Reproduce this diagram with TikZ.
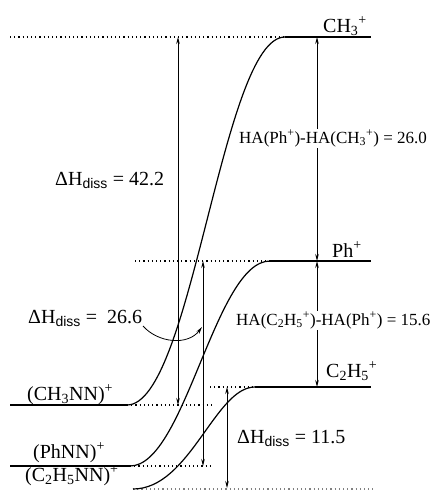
\documentclass[tikz,border=0pt]{standalone}
\usepackage{fontspec}
\setmainfont{Liberation Serif}
\newfontfamily\dissfont{Liberation Sans}
\usetikzlibrary{arrows.meta}
\newcommand\dHd{ΔH\textsubscript{\dissfont diss}}
\begin{document}
\begin{tikzpicture}[x=1pt,y=-1pt,
 lvl/.style={line width=1.4pt},
 dotl/.style={line width=1.1pt, dash pattern=on 1.2pt off 3pt},
 crv/.style={line width=1.2pt},
 dim/.style={line width=0.8pt, {Stealth[length=7pt,width=3.5pt]}-{Stealth[length=7pt,width=3.5pt]}},
 onearr/.style={line width=0.8pt, -{Stealth[length=7pt,width=3.5pt]}},
 lab/.style={font=\fontsize{20}{24}\selectfont, inner sep=0pt, anchor=base west},
 halab/.style={font=\fontsize{17}{20}\selectfont, inner sep=1pt, anchor=base west, fill=white}]
\useasboundingbox (0,0) rectangle (430,490);
% levels
\coordinate (ch3L) at (10,37);  \coordinate (ch3K) at (285,37);  \coordinate (ch3R) at (371,37);
\coordinate (phL) at (135,261); \coordinate (phK) at (270,261);  \coordinate (phR) at (371,261);
\coordinate (c2L) at (210,387); \coordinate (c2K) at (255,387);  \coordinate (c2R) at (371,387);
\coordinate (mnL) at (10,405);  \coordinate (mnK) at (127,405);  \coordinate (mnR) at (213,405);
\coordinate (pnL) at (10,466);  \coordinate (pnK) at (130,466);  \coordinate (pnR) at (210,466);
\coordinate (enK) at (133,489); \coordinate (enR) at (373,489);
\draw[dotl] (ch3L) -- (ch3K);
\draw[lvl] (ch3K) -- (ch3R);
\draw[dotl] (phL) -- (phK);
\draw[lvl] (phK) -- (phR);
\draw[dotl] (c2L) -- (c2K);
\draw[lvl] (c2K) -- (c2R);
\draw[lvl] (mnL) -- (mnK);
\draw[dotl] (mnK) -- (mnR);
\draw[lvl] (pnL) -- (pnK);
\draw[dotl] (pnK) -- (pnR);
\draw[dotl, gray] (enK) -- (enR);
% curves
\draw[crv] (mnK) .. controls (192,405) and (222,37) .. (ch3K);
\draw[crv] (pnK) .. controls (185,466) and (215,261) .. (phK);
\draw[crv] (enK) .. controls (190,489) and (215,387) .. (c2K);
% arrows
\coordinate (a1t) at (178,37);  \coordinate (a1b) at (178,405);
\coordinate (a2t) at (317,37);  \coordinate (a2b) at (317,261);
\coordinate (a3t) at (317,261); \coordinate (a3b) at (317,387);
\coordinate (a4t) at (203,261); \coordinate (a4b) at (203,466);
\coordinate (a5t) at (227,387); \coordinate (a5b) at (227,488);
\draw[dim] (a1b) -- (a1t);
\draw[dim] (a2b) -- (a2t);
\draw[dim] (a3b) -- (a3t);
\draw[dim] (a4b) -- (a4t);
\draw[dim] (a5b) -- (a5t);
% labels
\node[lab] (lch3) at (323,32) {CH\textsubscript{3}\textsuperscript{+}};
\node[lab] (lph) at (332,257) {Ph\textsuperscript{+}};
\node[lab] (lc2) at (326,377) {C\textsubscript{2}H\textsubscript{5}\textsuperscript{+}};
\node[lab] (l422) at (55,185) {\dHd{} = 42.2};
\node[halab] (lha1) at (238,143) {HA(Ph\textsuperscript{+})-HA(CH\textsubscript{3}\textsuperscript{+}) = 26.0};
\node[lab] (l266) at (28,323) {\dHd{} =\ \ 26.6};
\node[halab] (lha2) at (235,325) {HA(C\textsubscript{2}H\textsubscript{5}\textsuperscript{+})-HA(Ph\textsuperscript{+}) = 15.6};
\node[lab] (lmn) at (27,400) {(CH\textsubscript{3}NN)\textsuperscript{+}};
\node[lab] (l115) at (237,443) {\dHd{} = 11.5};
\node[lab] (lpn) at (33,458) {(PhNN)\textsuperscript{+}};
\node[lab] (len) at (25,481) {(C\textsubscript{2}H\textsubscript{5}NN)\textsuperscript{+}};
% curved pointer
\coordinate (cs) at (143,326);
\coordinate (ce) at (202,327);
\draw[onearr] (cs) .. controls (158,343) and (188,346) .. (ce);
\end{tikzpicture}
\end{document}
